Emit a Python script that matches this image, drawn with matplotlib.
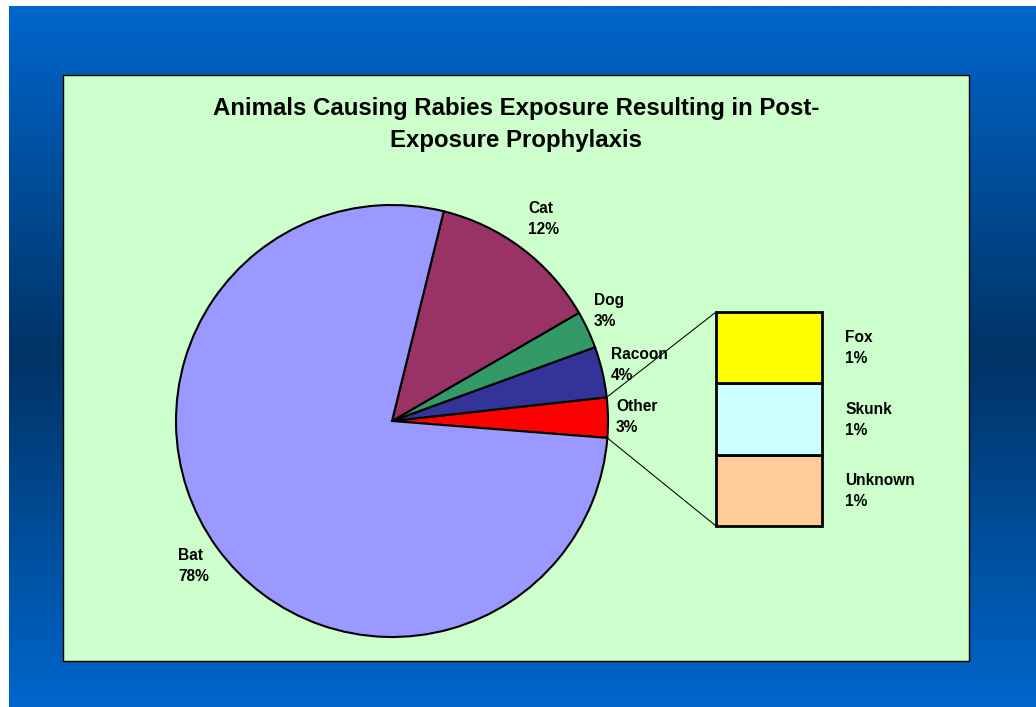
import numpy as np
import matplotlib.pyplot as plt
from matplotlib.colors import LinearSegmentedColormap
from matplotlib.patches import Rectangle, ConnectionPatch

plt.rcParams['font.family'] = ['Liberation Sans', 'DejaVu Sans']

# pie data (percent), counter-clockwise from the "Other" slice
pie_labels = ['Other', 'Racoon', 'Dog', 'Cat', 'Bat']
pie_values = [3.0, 3.8, 2.8, 12.8, 77.6]
pie_text = ['3%', '4%', '3%', '12%', '78%']
pie_colors = ['#FF0000', '#333399', '#339966', '#993366', '#9999FF']

# breakdown of "Other" (bottom to top)
bar_labels = ['Unknown', 'Skunk', 'Fox']
bar_values = [1, 1, 1]
bar_text = ['1%', '1%', '1%']
bar_colors = ['#FFCC99', '#CCFFFF', '#FFFF00']

W, H = 1036, 707
fig = plt.figure(figsize=(W / 100, H / 100), dpi=100)
fig.patch.set_facecolor('white')

# blue gradient background
bg = fig.add_axes([9 / W, 0, 1 - 9 / W, 1 - 6 / H])
bg.axis('off')
cmap = LinearSegmentedColormap.from_list('bg', ['#0066CC', '#003366', '#0066CC'])
grad = np.linspace(0, 1, 256).reshape(-1, 1)
bg.imshow(grad, aspect='auto', cmap=cmap, extent=[0, 1, 0, 1])

# main axes in pixel units (y measured from bottom)
ax = fig.add_axes([0, 0, 1, 1])
ax.set_xlim(0, W)
ax.set_ylim(0, H)
ax.axis('off')
ax.add_patch(Rectangle((63, H - 661), 906, 586, facecolor='#CCFFCC',
                       edgecolor='black', linewidth=1))

ax.text(516, H - 109, 'Animals Causing Rabies Exposure Resulting in Post-',
        ha='center', va='center', fontsize=17.3, fontweight='bold')
ax.text(516, H - 141, 'Exposure Prophylaxis',
        ha='center', va='center', fontsize=17.3, fontweight='bold')

cx, cy, r = 392, H - 421, 216
wedges, _ = ax.pie(pie_values, colors=pie_colors, startangle=-4.5,
                   counterclock=True, center=(cx, cy), radius=r,
                   wedgeprops=dict(edgecolor='black', linewidth=1.5))
ax.set_xlim(0, W)
ax.set_ylim(0, H)
ax.set_aspect('equal')

label_pos = {'Other': (616, 417), 'Racoon': (611, 365), 'Dog': (594, 311),
             'Cat': (528, 219), 'Bat': (178, 566)}
for lab, txt in zip(pie_labels, pie_text):
    x, y = label_pos[lab]
    ax.text(x, H - y, f'{lab}\n{txt}', ha='left', va='center', fontsize=11.2,
            fontweight='bold', linespacing=1.5)

# stacked bar of "Other"
bax = fig.add_axes([716 / W, (H - 526) / H, 106 / W, 214 / H])
bottom = 0
for v, c in zip(bar_values, bar_colors):
    bax.bar(0, v, bottom=bottom, width=1, color=c, edgecolor='black', linewidth=2)
    bottom += v
bax.set_xlim(-0.5, 0.5)
bax.set_ylim(0, sum(bar_values))
bax.axis('off')
for b in bax.patches:
    b.set_clip_on(False)

bar_label_y = {'Fox': 348, 'Skunk': 420, 'Unknown': 491}
for lab, txt in zip(bar_labels, bar_text):
    ax.text(845, H - bar_label_y[lab], f'{lab}\n{txt}', ha='left', va='center',
            fontsize=11.2, fontweight='bold', linespacing=1.5)

# connector lines from the "Other" wedge to the bar
w = wedges[0]
for ang, ybar in [(w.theta2, sum(bar_values)), (w.theta1, 0)]:
    px = cx + r * np.cos(np.radians(ang))
    py = cy + r * np.sin(np.radians(ang))
    con = ConnectionPatch(xyA=(px, py), coordsA=ax.transData,
                          xyB=(-0.5, ybar), coordsB=bax.transData,
                          color='black', linewidth=0.75)
    fig.add_artist(con)

fig.savefig('out.png', dpi=100)
